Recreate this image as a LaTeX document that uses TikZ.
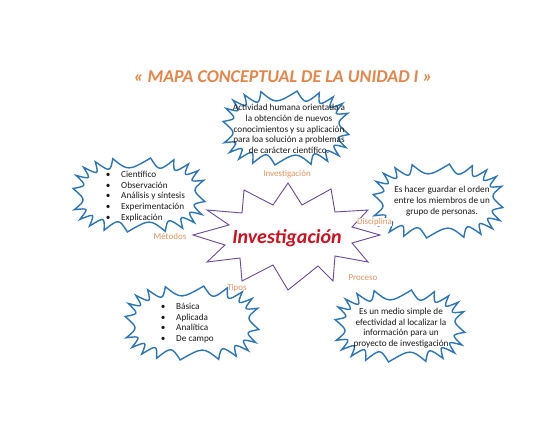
\documentclass[tikz,border=0pt]{standalone}
\usepackage{fontspec}
\setmainfont{Carlito}
\definecolor{sealblue}{RGB}{46,117,182}
\definecolor{starpurple}{RGB}{105,75,155}
\definecolor{titleorange}{RGB}{228,134,76}
\definecolor{labelorange}{RGB}{226,148,98}
\definecolor{mainred}{RGB}{204,18,32}
\newcommand\bul{\makebox[15.3pt][l]{•}}
\newcommand\sealshape[6]{% name cx cy a b depth
  \foreach \k in {1,...,21}{
    \pgfmathsetmacro\ta{4+18*(\k-1)}
    \pgfmathsetmacro\tb{\ta+9}
    \coordinate (#1-p\k) at ({#2+#4*cos(\ta)/(abs(cos(\ta))^0.35)},{#3+#5*sin(\ta)/(abs(sin(\ta))^0.35)});
    \coordinate (#1-c\k) at ({#2+(#4-#6)*cos(\tb)/(abs(cos(\tb))^0.35)},{#3+(#5-#6)*sin(\tb)/(abs(sin(\tb))^0.35)});
  }
  \draw[sealline] (#1-p1) \foreach \k [count=\n from 2] in {1,...,20}{ .. controls (#1-c\k) .. (#1-p\n) } -- cycle;
}
\begin{document}
\begin{tikzpicture}[x=1pt,y=-1pt,
  sealline/.style={draw=sealblue,line width=1.4pt,line join=miter,fill=white},
  starline/.style={draw=starpurple,line width=0.9pt,line join=miter,fill=white},
  bodytext/.style={inner sep=0pt,font=\fontsize{9.2}{10.6}\selectfont,text=black!90},
  lbl/.style={inner sep=0.5pt,font=\fontsize{9}{10}\selectfont,text=labelorange},
  titletext/.style={inner sep=0pt,font=\fontsize{18}{21}\selectfont\bfseries\itshape,text=titleorange},
  maintext/.style={inner sep=0pt,font=\fontsize{20}{24}\selectfont\bfseries\itshape,text=mainred}]
\useasboundingbox (0,0) rectangle (560,433);
\fill[white] (0,0) rectangle (560,433);

% title
\node[titletext] (title) at (283,77) {« MAPA CONCEPTUAL DE LA UNIDAD I »};

% seals
\sealshape{top}{286}{128}{63}{37}{13}
\sealshape{left}{139}{195}{66}{37}{13}
\sealshape{right}{438}{201}{65}{37}{13}
\sealshape{botl}{192}{323}{67}{37}{13}
\sealshape{botr}{400}{326}{65}{36}{13}

% central star
\draw[starline] (288,183) -- (302,205) -- (331,189) -- (335,212) -- (368,210)
  -- (352,227) -- (380,235) -- (352,243) -- (368,262) -- (335,256)
  -- (333,281) -- (318,266) -- (288,290) -- (273,265) -- (242,281)
  -- (240,258) -- (207,262) -- (225,245) -- (193,235) -- (229,225)
  -- (207,210) -- (242,213) -- (244,190) -- (273,205) -- cycle;

% texts
\node[bodytext,align=center] (topdef) at (289,129)
  {Actividad humana orientada a\\la obtención de nuevos\\conocimientos y su aplicación\\para loa solución a problemas\\de carácter científico.};
\node[bodytext,align=left,anchor=west] (metlist) at (105.7,196.5)
  {\bul Científico\\\bul Observación\\\bul Análisis y síntesis\\\bul Experimentación\\\bul Explicación};
\node[bodytext,align=center] (disdef) at (442,201)
  {Es hacer guardar el orden\\entre los miembros de un\\grupo de personas.};
\node[bodytext,align=left,anchor=west] (tiplist) at (160.7,323)
  {\bul Básica\\\bul Aplicada\\\bul Analítica\\\bul De campo};
\node[bodytext,align=center] (prodef) at (401,328)
  {Es un medio simple de\\efectividad al localizar la\\información para un\\proyecto de investigación};

\node[maintext] (main) at (287,238) {Investigación};

% labels
\node[lbl] (linv) at (287,174) {Investigación};
\node[lbl] (lmet) at (170,236) {Métodos};
\node[lbl,fill=white] (ldis) at (374.5,222) {Disciplina};
\node[lbl] (lpro) at (363,278) {Proceso};
\node[lbl] (ltip) at (237,288) {Tipos};
\end{tikzpicture}
\end{document}
